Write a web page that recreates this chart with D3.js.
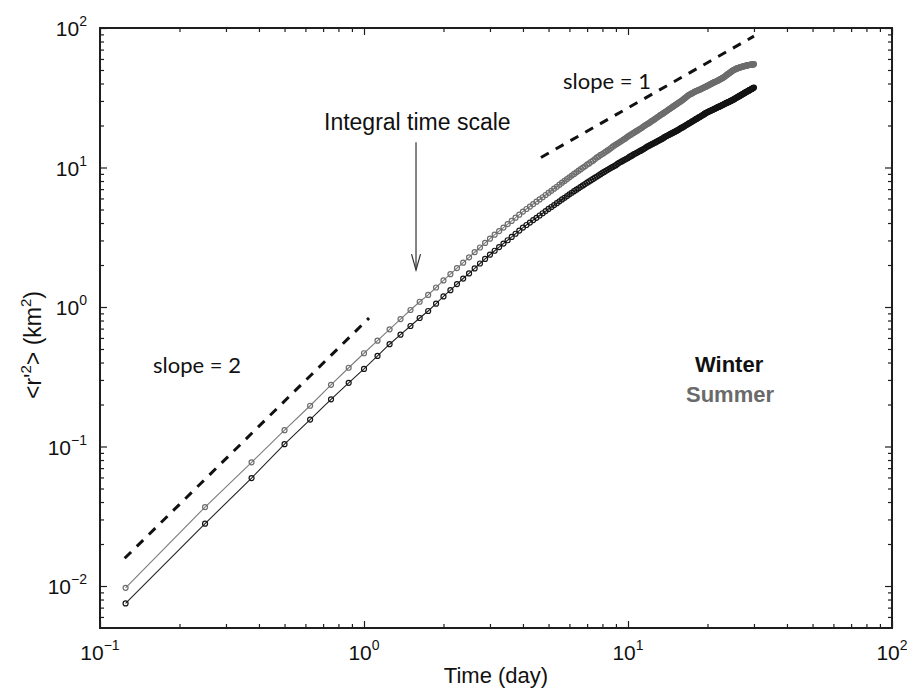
<!DOCTYPE html>
<html>
<head>
<meta charset="utf-8">
<script src="https://cdn.jsdelivr.net/npm/d3@7"></script>
<style>
  html, body { margin: 0; padding: 0; background: #fff; }
  svg { display: block; }
</style>
</head>
<body>
<svg id="chart" width="907" height="688"></svg>
<script>
// ---- Data (time in days, <r'^2> in km^2), one sample every 3 hours ----
const times = [0.125,0.25,0.375,0.5,0.625,0.75,0.875,1,1.125,1.25,1.375,1.5,1.625,1.75,1.875,2,
  2.125,2.25,2.375,2.5,2.625,2.75,2.875,3,3.125,3.25,3.375,3.5,3.625,3.75,3.875,4,
  4.125,4.25,4.375,4.5,4.625,4.75,4.875,5,5.125,5.25,5.375,5.5,5.625,5.75,5.875,6,
  6.125,6.25,6.375,6.5,6.625,6.75,6.875,7,7.125,7.25,7.375,7.5,7.625,7.75,7.875,8,
  8.125,8.25,8.375,8.5,8.625,8.75,8.875,9,9.125,9.25,9.375,9.5,9.625,9.75,9.875,10,
  10.125,10.25,10.375,10.5,10.625,10.75,10.875,11,11.125,11.25,11.375,11.5,11.625,11.75,11.875,12,
  12.125,12.25,12.375,12.5,12.625,12.75,12.875,13,13.125,13.25,13.375,13.5,13.625,13.75,13.875,14,
  14.125,14.25,14.375,14.5,14.625,14.75,14.875,15,15.125,15.25,15.375,15.5,15.625,15.75,15.875,16,
  16.125,16.25,16.375,16.5,16.625,16.75,16.875,17,17.125,17.25,17.375,17.5,17.625,17.75,17.875,18,
  18.125,18.25,18.375,18.5,18.625,18.75,18.875,19,19.125,19.25,19.375,19.5,19.625,19.75,19.875,20,
  20.125,20.25,20.375,20.5,20.625,20.75,20.875,21,21.125,21.25,21.375,21.5,21.625,21.75,21.875,22,
  22.125,22.25,22.375,22.5,22.625,22.75,22.875,23,23.125,23.25,23.375,23.5,23.625,23.75,23.875,24,
  24.125,24.25,24.375,24.5,24.625,24.75,24.875,25,25.125,25.25,25.375,25.5,25.625,25.75,25.875,26,
  26.125,26.25,26.375,26.5,26.625,26.75,26.875,27,27.125,27.25,27.375,27.5,27.625,27.75,27.875,28,
  28.125,28.25,28.375,28.5,28.625,28.75,28.875,29,29.125,29.25,29.375,29.5,29.625,29.75,29.875,30];

const winter = [0.0075,0.028,0.0594,0.104,0.156,0.218,0.286,0.360,0.446,0.541,0.633,0.731,0.834,0.936,1.056,1.19,
  1.32,1.46,1.60,1.74,1.89,2.05,2.21,2.37,2.53,2.69,2.85,3.01,3.18,3.35,3.53,3.71,
  3.87,4.03,4.20,4.36,4.53,4.70,4.87,5.05,5.21,5.38,5.55,5.72,5.90,6.07,6.24,6.42,
  6.59,6.76,6.93,7.10,7.27,7.44,7.61,7.78,7.95,8.11,8.28,8.45,8.62,8.79,8.96,9.14,
  9.30,9.46,9.62,9.78,9.94,10.1,10.25,10.4,10.6,10.8,10.95,11.1,11.25,11.4,11.55,11.7,
  11.9,12.05,12.2,12.4,12.55,12.7,12.85,13.0,13.15,13.3,13.45,13.6,13.8,14.0,14.15,14.3,
  14.45,14.6,14.75,14.9,15.05,15.2,15.35,15.5,15.65,15.8,15.95,16.1,16.3,16.5,16.65,16.8,
  16.95,17.1,17.25,17.4,17.55,17.7,17.85,18.0,18.15,18.3,18.45,18.6,18.8,19.0,19.15,19.3,
  19.45,19.6,19.8,20.0,20.15,20.3,20.5,20.7,20.85,21.0,21.2,21.4,21.55,21.7,21.9,22.1,
  22.25,22.4,22.6,22.8,22.95,23.1,23.3,23.5,23.65,23.8,24.0,24.2,24.4,24.6,24.75,24.9,
  25.05,25.2,25.35,25.5,25.6,25.7,25.85,26.0,26.15,26.3,26.45,26.6,26.75,26.9,27.05,27.2,
  27.3,27.4,27.55,27.7,27.85,28.0,28.15,28.3,28.45,28.6,28.75,28.9,29.05,29.2,29.3,29.4,
  29.55,29.7,29.85,30.0,30.15,30.3,30.45,30.6,30.75,30.9,31.1,31.3,31.45,31.6,31.8,32.0,
  32.15,32.3,32.45,32.6,32.8,33.0,33.15,33.3,33.5,33.7,33.85,34.0,34.2,34.4,34.55,34.7,
  34.85,35.0,35.2,35.4,35.55,35.7,35.9,36.1,36.25,36.4,36.55,36.7,36.9,37.1,37.25,37.4];

const summer = [0.0097,0.0368,0.077,0.131,0.196,0.277,0.367,0.466,0.574,0.692,0.820,0.952,1.091,1.22,1.38,1.55,
  1.72,1.90,2.08,2.27,2.47,2.67,2.88,3.09,3.30,3.50,3.71,3.93,4.14,4.37,4.59,4.83,
  5.04,5.25,5.47,5.69,5.90,6.12,6.35,6.58,6.81,7.05,7.28,7.53,7.78,8.01,8.26,8.51,
  8.75,9.00,9.23,9.49,9.73,9.98,10.2,10.5,10.7,11.0,11.2,11.5,11.8,12.0,12.3,12.5,
  12.75,13.0,13.25,13.5,13.8,14.1,14.35,14.6,14.85,15.1,15.35,15.6,15.85,16.1,16.4,16.7,
  16.95,17.2,17.45,17.7,17.95,18.2,18.45,18.7,18.95,19.2,19.5,19.8,20.05,20.3,20.55,20.8,
  21.1,21.4,21.65,21.9,22.2,22.5,22.8,23.1,23.4,23.7,23.95,24.2,24.5,24.8,25.1,25.4,
  25.7,26.0,26.3,26.6,26.9,27.2,27.5,27.8,28.1,28.4,28.7,29.0,29.3,29.6,29.9,30.2,
  30.55,30.9,31.25,31.6,32.0,32.4,32.75,33.1,33.35,33.6,33.8,34.0,34.3,34.6,34.85,35.1,
  35.3,35.5,35.7,35.9,36.1,36.3,36.5,36.7,36.95,37.2,37.4,37.6,37.8,38.0,38.25,38.5,
  38.75,39.0,39.25,39.5,39.75,40.0,40.25,40.5,40.7,40.9,41.1,41.3,41.5,41.7,41.95,42.2,
  42.45,42.7,42.95,43.2,43.45,43.7,43.95,44.2,44.55,44.9,45.25,45.6,45.95,46.3,46.65,47.0,
  47.3,47.6,47.95,48.3,48.65,49.0,49.35,49.7,49.9,50.1,50.35,50.6,50.85,51.1,51.3,51.5,
  51.65,51.8,51.95,52.1,52.25,52.4,52.55,52.7,52.85,53.0,53.1,53.2,53.35,53.5,53.6,53.7,
  53.8,53.9,54.0,54.1,54.2,54.3,54.4,54.5,54.55,54.6,54.65,54.7,54.75,54.8,54.9,55.0];

// reference slope guides (start / end points)
const slope2Guide = [[0.124, 0.0158], [1.045, 0.834]];
const slope1Guide = [[4.68, 11.8], [30, 87.4]];
// "Integral time scale" arrow (time, from value, to value)
const arrowGuide = { t: 1.574, from: 15.2, to: 1.84 };

const xMajor = [0.1, 1, 10, 100];
const xMajorExp = ["−1", "0", "1", "2"];
const yMajor = [0.01, 0.1, 1, 10, 100];
const yMajorExp = ["−2", "−1", "0", "1", "2"];

// ---- Chart ----
const svg = d3.select("#chart");
const L = 100, R = 892, T = 28, B = 628;
const x = d3.scaleLog().domain([0.1, 100]).range([L, R]);
const y = d3.scaleLog().domain([0.005, 100]).range([B, T]);

const axisColor = "#1e1e1e";
const sansFont = "'Liberation Sans', Arial, Helvetica, sans-serif";

function minorTicks(lo, hi) {
  const out = [];
  for (let e = Math.floor(Math.log10(lo)); e <= Math.ceil(Math.log10(hi)); e++) {
    for (let m = 2; m <= 9; m++) {
      const v = m * Math.pow(10, e);
      if (v > lo && v < hi) out.push(v);
    }
  }
  return out;
}
const xMinor = minorTicks(0.1, 100);
const yMinor = minorTicks(0.005, 100);

function drawAxis(gen, transform) {
  const g = svg.append("g").attr("transform", transform).call(gen);
  g.select(".domain").remove();
  g.selectAll(".tick text").remove();
  g.selectAll(".tick line").attr("stroke", axisColor).attr("stroke-width", 1.2);
  return g;
}
drawAxis(d3.axisBottom(x).tickValues(xMinor).tickSize(-4), `translate(0,${B})`);
drawAxis(d3.axisBottom(x).tickValues(xMajor).tickSize(-7), `translate(0,${B})`);
drawAxis(d3.axisTop(x).tickValues(xMinor).tickSize(-4), `translate(0,${T})`);
drawAxis(d3.axisTop(x).tickValues(xMajor).tickSize(-7), `translate(0,${T})`);
drawAxis(d3.axisLeft(y).tickValues(yMinor).tickSize(-4), `translate(${L},0)`);
drawAxis(d3.axisLeft(y).tickValues(yMajor).tickSize(-7), `translate(${L},0)`);
drawAxis(d3.axisRight(y).tickValues(yMinor).tickSize(-4), `translate(${R},0)`);
drawAxis(d3.axisRight(y).tickValues(yMajor).tickSize(-7), `translate(${R},0)`);

svg.append("rect").attr("x", L).attr("y", T).attr("width", R - L).attr("height", B - T)
  .attr("fill", "none").attr("stroke", axisColor).attr("stroke-width", 2);

// tick labels
xMajor.forEach((v, i) => {
  const t = svg.append("text").attr("x", x(v)).attr("y", 660)
    .attr("text-anchor", "middle").attr("font-family", sansFont).attr("font-size", 21).attr("fill", "#111");
  t.append("tspan").text("10");
  t.append("tspan").attr("dy", -10).attr("font-size", 14).text(xMajorExp[i]);
});
yMajor.forEach((v, i) => {
  const t = svg.append("text").attr("x", 87).attr("y", y(v) + 8)
    .attr("text-anchor", "end").attr("font-family", sansFont).attr("font-size", 21).attr("fill", "#111");
  t.append("tspan").text("10");
  t.append("tspan").attr("dy", -10).attr("font-size", 14).text(yMajorExp[i]);
});

// axis titles
svg.append("text").attr("x", (L + R) / 2).attr("y", 683).attr("text-anchor", "middle")
  .attr("font-family", sansFont).attr("font-size", 22).attr("fill", "#111").text("Time (day)");

const yt = svg.append("text").attr("transform", "translate(41,345) rotate(-90)")
  .attr("text-anchor", "middle").attr("font-family", sansFont).attr("font-size", 23).attr("fill", "#111");
yt.append("tspan").text("<r'");
yt.append("tspan").attr("dy", -10).attr("font-size", 15).text("2");
yt.append("tspan").attr("dy", 10).text("> (km");
yt.append("tspan").attr("dy", -10).attr("font-size", 15).text("2");
yt.append("tspan").attr("dy", 10).text(")");

// slope guides
const lineGen = d3.line().x(d => x(d[0])).y(d => y(d[1]));
[slope2Guide, slope1Guide].forEach(gd => {
  svg.append("path").attr("d", lineGen(gd)).attr("fill", "none")
    .attr("stroke", "#111").attr("stroke-width", 3).attr("stroke-dasharray", "9,8");
});

// series
const seriesDefs = [
  { name: "Summer", vals: summer, line: "#7c7c7c", mark: "#6c6c6c" },
  { name: "Winter", vals: winter, line: "#222", mark: "#141414" }
];
seriesDefs.forEach(s => {
  const pts = times.map((t, i) => [t, s.vals[i]]).filter(d => d[1] !== undefined);
  svg.append("path").attr("d", lineGen(pts)).attr("fill", "none")
    .attr("stroke", s.line).attr("stroke-width", 1.1);
  svg.append("g").selectAll("circle").data(pts).join("circle")
    .attr("cx", d => x(d[0])).attr("cy", d => y(d[1])).attr("r", 2.5)
    .attr("fill", "none").attr("stroke", s.mark).attr("stroke-width", 1.2);
});

// arrow annotation
const ax = x(arrowGuide.t), ay0 = y(arrowGuide.from), ay1 = y(arrowGuide.to);
svg.append("line").attr("x1", ax).attr("x2", ax).attr("y1", ay0).attr("y2", ay1)
  .attr("stroke", "#333").attr("stroke-width", 1.2);
svg.append("path").attr("d", `M${ax - 4.5},${ay1 - 16} L${ax},${ay1} L${ax + 4.5},${ay1 - 16}`)
  .attr("fill", "none").attr("stroke", "#333").attr("stroke-width", 1.2);
svg.append("text").attr("x", 324).attr("y", 130).attr("font-family", sansFont)
  .attr("font-size", 23).attr("fill", "#111").text("Integral time scale");

// slope labels
svg.append("text").attr("x", 153).attr("y", 373).attr("font-family", "Lato, 'Open Sans', sans-serif")
  .attr("font-size", 22).attr("fill", "#111").text("slope = 2");
svg.append("text").attr("x", 563).attr("y", 89).attr("font-family", "Lato, 'Open Sans', sans-serif")
  .attr("font-size", 22).attr("fill", "#111").text("slope = 1");

// legend labels
svg.append("text").attr("x", 695).attr("y", 372).attr("font-family", sansFont).attr("font-weight", "bold")
  .attr("font-size", 22).attr("fill", "#111").text("Winter");
svg.append("text").attr("x", 686).attr("y", 402).attr("font-family", sansFont).attr("font-weight", "bold")
  .attr("font-size", 22).attr("fill", "#6a6a6a").text("Summer");
</script>
</body>
</html>
